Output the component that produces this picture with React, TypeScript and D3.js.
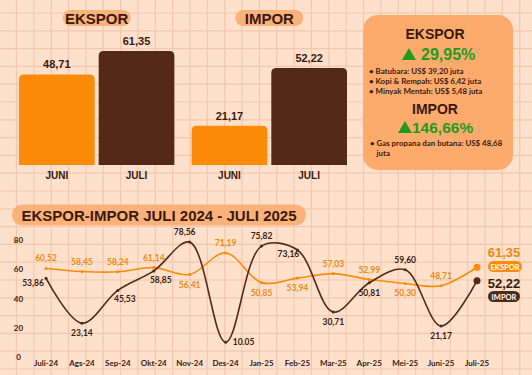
import React from "react";
import * as d3 from "d3";

const barGroups = ["EKSPOR", "IMPOR"];
const barCategories = ["JUNI", "JULI"];
const eksporBars = [48.71, 61.35];
const imporBars = [21.17, 52.22];

const months = ["Juli-24", "Ags-24", "Sep-24", "Okt-24", "Nov-24", "Des-24", "Jan-25", "Feb-25", "Mar-25", "Apr-25", "Mei-25", "Juni-25", "Juli-25"];
const eksporSeries = [60.52, 58.45, 58.24, 61.14, 56.41, 71.19, 50.85, 53.94, 57.03, 52.99, 50.30, 48.71, 61.35];
const imporSeries = [53.86, 23.14, 45.53, 58.85, 78.56, 10.05, 75.82, 73.16, 30.71, 50.81, 59.60, 21.17, 52.22];
const eksporLabels = ["60,52", "58,45", "58,24", "61,14", "56,41", "71,19", "50,85", "53,94", "57,03", "52,99", "50,30", "48,71", "61,35"];
const imporLabels = ["53,86", "23,14", "45,53", "58,85", "78,56", "10.05", "75,82", "73,16", "30,71", "50,81", "59,60", "21,17", "52,22"];
const eksporPlace = ["above", "above", "above", "above", "below", "above", "below", "below", "above", "above", "below", "above", "end"];
const imporPlace = ["left", "below", "belowRight", "belowRight", "aboveLeft", "right", "above", "belowLeft", "below", "below", "above", "below", "end"];
const yTicks = [0, 20, 40, 60, 80];

const eksporItems = ["Batubara: US$ 39,20 juta", "Kopi & Rempah: US$ 6,42 juta", "Minyak Mentah: US$ 5,48 juta"];
const imporItems = ["Gas propana dan butana: US$ 48,68", "juta"];
const eksporGrowth = "29,95%";
const imporGrowth = "146,66%";

const W = 532, H = 375;
const BG = "#fde1cd";
const GRID = "#f6c7ac";
const ORANGE = "#fd8b0a";
const BROWN = "#552918";
const DARK = "#3a1a0d";
const GREEN = "#1f9b1f";
const TITLE_FONT = "'Liberation Sans', Arial, sans-serif";
const SMALL_FONT = "Lato, 'Open Sans', sans-serif";

const offsets: Record<string, [number, number]> = {
  above: [0, -10],
  below: [0, 10],
  left: [-13, 5],
  right: [18, 0],
  belowRight: [7, 9],
  aboveLeft: [-5, -10],
  belowLeft: [-9, 4],
};

function roundTopRect(x: number, y: number, w: number, h: number, r: number) {
  return `M${x},${y + h}V${y + r}Q${x},${y} ${x + r},${y}H${x + w - r}Q${x + w},${y} ${x + w},${y + r}V${y + h}Z`;
}

export default function App() {
  const gx = d3.range(16.5, W, 17.35);
  const gy = d3.range(13, H, 17.8);

  const yBar = d3.scaleLinear().domain([0, 61.35]).range([165, 51]);
  const groupX = d3.scaleBand().domain(barGroups).range([19, 347]).paddingInner(0.1);
  const barData = [eksporBars, imporBars];

  const x = d3.scalePoint().domain(months).range([46, 477]);
  const y = d3.scaleLinear().domain([0, 80]).range([357, 240]);
  const line = d3
    .line<number>()
    .x((_, i) => x(months[i]) as number)
    .y((d) => y(d))
    .curve(d3.curveCatmullRom.alpha(0.5));

  const last = months.length - 1;

  return (
    <svg width={W} height={H} style={{ position: "absolute", left: 0, top: 0, display: "block" }}>
      <rect width={W} height={H} fill={BG} />
      {gx.map((v, i) => (
        <line key={"gx" + i} x1={v} x2={v} y1={0} y2={H} stroke={GRID} strokeWidth={1.2} />
      ))}
      {gy.map((v, i) => (
        <line key={"gy" + i} x1={0} x2={W} y1={v} y2={v} stroke={GRID} strokeWidth={1.2} />
      ))}

      {barGroups.map((g, gi) => {
        const gx0 = groupX(g) as number;
        const inner = d3.scaleBand().domain(barCategories).range([gx0, gx0 + groupX.bandwidth()]).paddingInner(0.05);
        const cx = gx0 + groupX.bandwidth() / 2;
        return (
          <g key={g}>
            <rect x={cx - 34} y={10} width={68} height={16} rx={8} fill="#fbb27a" />
            <text x={cx} y={23.5} textAnchor="middle" fontFamily={TITLE_FONT} fontWeight="bold" fontSize={15} fill={DARK}>
              {g}
            </text>
            {barCategories.map((c, ci) => {
              const v = barData[gi][ci];
              const bx = inner(c) as number;
              const bw = inner.bandwidth();
              const top = yBar(v);
              return (
                <g key={c}>
                  <path d={roundTopRect(bx, top, bw, yBar(0) - top, 5)} fill={ci === 0 ? ORANGE : BROWN} />
                  <text x={bx + bw / 2} y={top - 6} textAnchor="middle" fontFamily={TITLE_FONT} fontWeight="bold" fontSize={11} fill={DARK}>
                    {d3.format(".2f")(v).replace(".", ",")}
                  </text>
                  <text x={bx + bw / 2} y={179} textAnchor="middle" fontFamily={TITLE_FONT} fontWeight="bold" fontSize={10} fill={DARK}>
                    {c}
                  </text>
                </g>
              );
            })}
          </g>
        );
      })}

      <rect x={363} y={15} width={150} height={155} rx={15} fill="#fdab6d" />
      <text x={435} y={39} textAnchor="middle" fontFamily={TITLE_FONT} fontWeight="bold" fontSize={14} fill={DARK}>EKSPOR</text>
      <path d={`M402,60 L409,48 L416,60 Z`} fill={GREEN} />
      <text x={421} y={60} fontFamily={TITLE_FONT} fontWeight="bold" fontSize={16} fill={GREEN}>{eksporGrowth}</text>
      {eksporItems.map((t, i) => (
        <text key={t} x={369} y={73.5 + i * 10} fontFamily={SMALL_FONT} fontWeight="bold" fontSize={7.9} fill={DARK}>
          {"• " + t}
        </text>
      ))}
      <text x={435} y={114} textAnchor="middle" fontFamily={TITLE_FONT} fontWeight="bold" fontSize={14} fill={DARK}>IMPOR</text>
      <path d={`M398,133 L405,121 L412,133 Z`} fill={GREEN} />
      <text x={412} y={133} fontFamily={TITLE_FONT} fontWeight="bold" fontSize={15.5} fill={GREEN}>{imporGrowth}</text>
      {imporItems.map((t, i) => (
        <text key={t} x={i === 0 ? 370 : 376.5} y={146 + i * 10} fontFamily={SMALL_FONT} fontWeight="bold" fontSize={7.9} fill={DARK}>
          {(i === 0 ? "• " : "") + t}
        </text>
      ))}

      <rect x={12} y={204.5} width={294} height={21} rx={10.5} fill="#fbb27a" />
      <text x={159} y={220.5} textAnchor="middle" fontFamily={TITLE_FONT} fontWeight="bold" fontSize={15} fill={DARK}>
        EKSPOR-IMPOR JULI 2024 - JULI 2025
      </text>

      {yTicks.map((t) => (
        <text key={t} x={18.5} y={y(t) + 3} textAnchor="middle" fontFamily={SMALL_FONT} fontWeight="bold" fontSize={8} fill={DARK}>
          {t}
        </text>
      ))}
      {months.map((m) => (
        <text key={m} x={x(m) as number} y={366} textAnchor="middle" fontFamily={SMALL_FONT} fontWeight="bold" fontSize={8} fill={DARK}>
          {m}
        </text>
      ))}

      <path d={line(eksporSeries) || ""} fill="none" stroke={ORANGE} strokeWidth={1.6} />
      <path d={line(imporSeries) || ""} fill="none" stroke={BROWN} strokeWidth={1.6} />
      {eksporSeries.map((v, i) => (
        <circle key={"ep" + i} cx={x(months[i]) as number} cy={y(v)} r={i === last ? 3.5 : 1.5} fill={ORANGE} />
      ))}
      {imporSeries.map((v, i) => (
        <circle key={"ip" + i} cx={x(months[i]) as number} cy={y(v)} r={i === last ? 3.5 : 1.5} fill={BROWN} />
      ))}

      {eksporSeries.map((v, i) => {
        if (eksporPlace[i] === "end") return null;
        const [dx, dy] = offsets[eksporPlace[i]];
        return (
          <text key={"el" + i} x={(x(months[i]) as number) + dx} y={y(v) + dy + 3} textAnchor="middle" fontFamily={SMALL_FONT} fontWeight="bold" fontSize={8.5} fill="#ec8a14">
            {eksporLabels[i]}
          </text>
        );
      })}
      {imporSeries.map((v, i) => {
        if (imporPlace[i] === "end") return null;
        const [dx, dy] = offsets[imporPlace[i]];
        return (
          <text key={"il" + i} x={(x(months[i]) as number) + dx} y={y(v) + dy + 3} textAnchor="middle" fontFamily={SMALL_FONT} fontWeight="bold" fontSize={8.5} fill={DARK}>
            {imporLabels[i]}
          </text>
        );
      })}

      <text x={504} y={257} textAnchor="middle" fontFamily={TITLE_FONT} fontWeight="bold" fontSize={13} fill="#ec8a14">
        {eksporLabels[last]}
      </text>
      <rect x={488} y={261} width={34} height={11} rx={5.5} fill={ORANGE} />
      <text x={505} y={269.5} textAnchor="middle" fontFamily={SMALL_FONT} fontWeight="bold" fontSize={7.5} fill="#fff">EKSPOR</text>
      <text x={504} y={288} textAnchor="middle" fontFamily={TITLE_FONT} fontWeight="bold" fontSize={13} fill={DARK}>
        {imporLabels[last]}
      </text>
      <rect x={488} y={291} width={32} height={11} rx={5.5} fill={BROWN} />
      <text x={504} y={299.5} textAnchor="middle" fontFamily={SMALL_FONT} fontWeight="bold" fontSize={7.5} fill="#fff">IMPOR</text>
    </svg>
  );
}
